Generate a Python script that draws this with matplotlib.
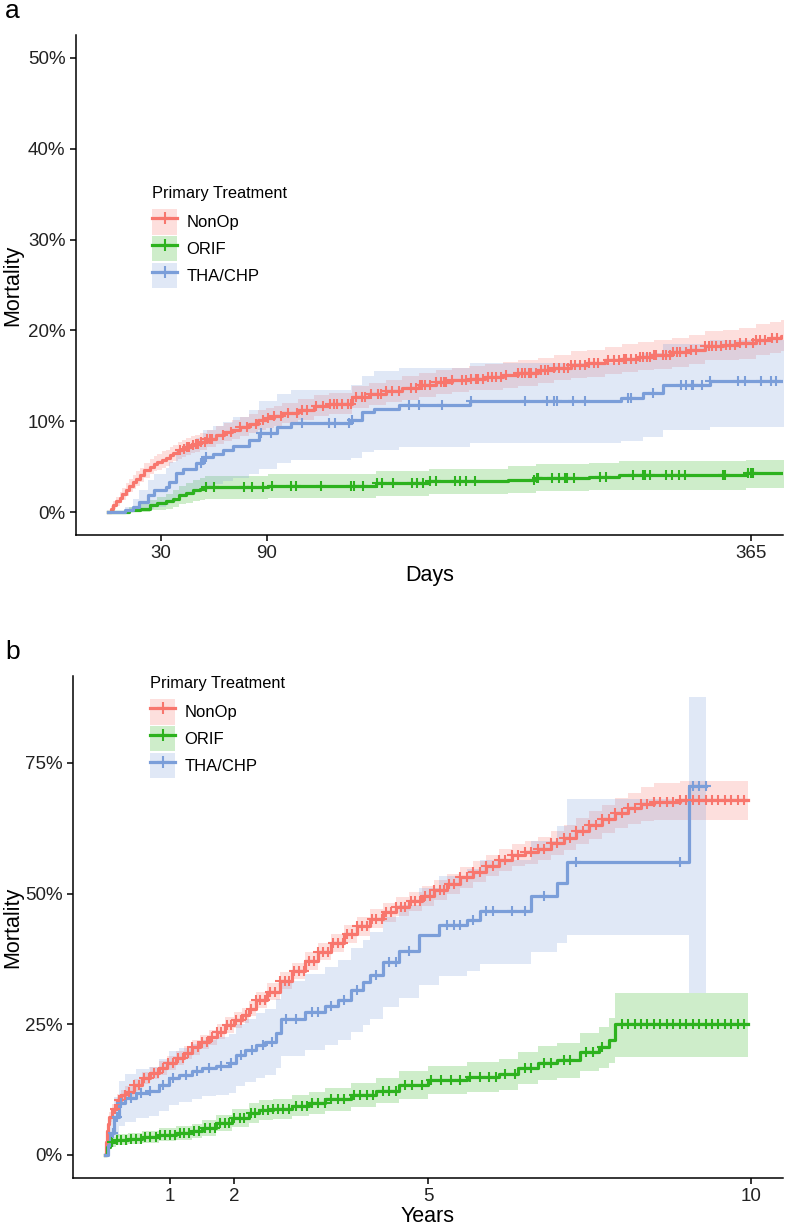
import numpy as np
import matplotlib
matplotlib.use('Agg')
import matplotlib.pyplot as plt
from matplotlib.patches import Patch
from matplotlib.lines import Line2D

plt.rcParams['font.family'] = ['Liberation Sans', 'DejaVu Sans']

groups = ['NonOp', 'ORIF', 'THA/CHP']
colors = {'NonOp': '#F8766D', 'ORIF': '#2DB21E', 'THA/CHP': '#7B9ED9'}

# ---------- panel a : first year, days / % ----------
a_nonop_t = [0, 1.5, 3, 4.5, 6.5, 8, 10, 12, 14, 16, 18, 20.5, 23.5, 26, 28, 30.5, 33, 35, 37, 39.5,
             42, 44.5, 47, 49.5, 52, 56, 61, 66, 70.5, 75, 80, 85,
             89.6, 94, 99, 108, 117, 125.5, 138.6, 148, 157.7, 167, 176.5, 186, 195, 205, 214,
             224, 233, 244, 253, 263, 272, 282, 292, 301, 310, 320, 330, 339, 349, 358, 368,
             376, 382, 385]
a_nonop_est = [0, 0.4, 0.8, 1.2, 1.6, 2.0, 2.5, 2.9, 3.3, 3.7, 4.1, 4.6, 5.0, 5.3, 5.5, 5.8, 6.0,
               6.3, 6.5, 6.8, 7.0, 7.2, 7.4, 7.55, 7.7, 8.1, 8.5, 8.8, 9.1,
               9.4, 9.7, 10.1, 10.4, 10.6, 10.9, 11.3, 11.7, 11.95, 12.7, 13.0, 13.3, 13.7, 14.0,
               14.3, 14.5, 14.7, 14.9, 15.1, 15.3, 15.6, 15.9, 16.2, 16.4, 16.7, 16.9, 17.1, 17.3,
               17.6, 17.9, 18.3, 18.45, 18.6, 19.0, 19.2, 19.4, 19.4]
a_nonop_lo = [0, 0.1, 0.4, 0.7, 1.0, 1.4, 1.8, 2.2, 2.6, 2.9, 3.3, 3.8, 4.2, 4.5, 4.7, 4.9, 5.1,
              5.4, 5.6, 5.9, 6.1, 6.3, 6.5, 6.65, 6.8, 7.2, 7.5, 7.8, 8.1,
              8.4, 8.7, 9.0, 9.3, 9.5, 9.8, 10.2, 10.6, 10.8, 11.5, 11.8, 12.1, 12.4, 12.7, 13.0,
              13.2, 13.4, 13.5, 13.7, 13.9, 14.2, 14.5, 14.8, 14.9, 15.2, 15.4, 15.6, 15.8, 16.0,
              16.3, 16.7, 16.8, 16.9, 17.3, 17.5, 17.7, 17.7]
a_nonop_hi = [0, 0.7, 1.2, 1.7, 2.2, 2.7, 3.2, 3.7, 4.1, 4.5, 4.9, 5.4, 5.9, 6.2, 6.4, 6.7, 6.9,
              7.2, 7.4, 7.7, 7.9, 8.2, 8.4, 8.55, 8.7, 9.1, 9.5, 9.8, 10.1,
              10.5, 10.8, 11.2, 11.5, 11.7, 12.0, 12.5, 12.9, 13.1, 13.9, 14.2, 14.6, 15.0, 15.3,
              15.6, 15.9, 16.1, 16.3, 16.5, 16.7, 17.0, 17.3, 17.7, 17.9, 18.2, 18.5, 18.7, 18.9,
              19.2, 19.5, 19.9, 20.1, 20.3, 20.7, 20.9, 21.1, 21.1]
a_nonop_cens = [41, 43, 45, 46, 48, 50, 51, 53, 55, 56, 58, 59, 65, 70, 75, 79, 84, 88, 91, 94, 98,
                102, 107, 110, 113, 118, 122, 126, 128, 130, 133, 136, 138, 141, 144, 146, 149,
                153, 155, 158, 161, 165, 172, 175, 177, 178, 180, 183, 186, 189, 191, 192, 195,
                201, 203, 206, 209, 210, 213, 216, 218, 220, 223, 226, 233, 235, 237, 239, 240,
                243, 246, 248, 250, 253, 256, 259, 261, 263, 265, 268, 271, 273, 276, 278, 284,
                287, 290, 293, 294, 297, 300, 302, 304, 306, 308, 310, 311, 315, 317, 319, 321,
                323, 325, 328, 331, 334, 339, 341, 343, 345, 348, 351, 353, 356, 359, 362, 366,
                368, 370, 373, 377, 380]

a_orif_t = [0, 12, 18, 23.5, 28, 33, 37, 40.5, 44, 48, 52, 55, 91, 152, 182, 227, 243, 273, 290, 362, 385]
a_orif_est = [0, 0.2, 0.4, 0.8, 1.0, 1.2, 1.5, 1.9, 2.1, 2.4, 2.6, 2.75, 2.9, 3.2, 3.4, 3.6, 3.8, 3.9, 4.1, 4.3, 4.3]
a_orif_lo = [0, 0, 0.05, 0.2, 0.3, 0.4, 0.6, 0.9, 1.0, 1.2, 1.4, 1.5, 1.6, 1.8, 2.0, 2.1, 2.3, 2.4, 2.5, 2.7, 2.7]
a_orif_hi = [0, 0.6, 0.9, 1.4, 1.7, 2.0, 2.4, 2.9, 3.2, 3.5, 3.8, 4.0, 4.2, 4.5, 4.8, 5.1, 5.3, 5.4, 5.6, 5.8, 5.8]
a_orif_cens = [55.7, 60.4, 77, 81.5, 87.7, 93, 104, 106.6, 121, 138, 139.6, 145, 152.6, 155.5, 162,
               172.6, 175.3, 179, 183, 186, 197, 200, 203, 208.6, 241.6, 243.3, 244, 252, 256,
               259.7, 260.4, 264.3, 279.6, 283, 298, 304, 305, 308, 317, 320, 324, 327.6, 349,
               350.4, 363.4, 365, 366]

a_tha_t = [0, 9.3, 14, 17.8, 22.5, 26.3, 33, 34.8, 38.6, 42.3, 50, 53.7, 59.3, 65, 70.7, 80, 85.8,
           96, 103.7, 137.8, 144, 151, 165, 205.7, 291.5, 304, 315, 341.7, 385]
a_tha_est = [0, 0.2, 0.6, 1.1, 1.9, 2.4, 2.8, 3.3, 4.3, 4.8, 5.4, 6.1, 6.4, 6.8, 7.3, 7.9, 8.7, 9.4,
             9.8, 10.2, 11.0, 11.4, 11.8, 12.2, 12.6, 13.1, 14.0, 14.4, 14.4]
a_tha_lo = [0, 0, 0, 0.1, 0.4, 0.6, 0.8, 1.1, 1.7, 2.0, 2.4, 2.9, 3.1, 3.4, 3.8, 4.2, 4.8, 5.4, 5.7,
            6.0, 6.6, 6.9, 7.2, 7.6, 7.8, 8.3, 9.0, 9.4, 9.4]
a_tha_hi = [0, 0.6, 1.5, 2.4, 3.5, 4.2, 4.9, 5.5, 6.8, 7.5, 8.2, 9.0, 9.5, 9.9, 10.5, 11.3, 12.2,
            13.0, 13.5, 14.0, 15.0, 15.5, 15.9, 16.4, 16.9, 17.5, 18.5, 19.0, 19.0]
a_tha_cens = [53, 55.6, 86.7, 92.4, 110, 125.5, 129, 136.8, 138.6, 170.7, 176.4, 189.6, 205.8, 237,
              249, 253, 254.7, 264, 271, 295.5, 297, 309.6, 325.6, 328.4, 331.3, 332, 337, 342,
              357.7, 361.6, 370.8, 376.4, 379.3]

# ---------- panel b : long term, years / % ----------
b_nonop_t = [0, 0.01, 0.02, 0.035, 0.05, 0.1, 0.18, 0.25, 0.31, 0.44, 0.57, 0.7, 0.83, 0.96, 1.09,
             1.22, 1.34, 1.47, 1.6, 1.73, 1.86, 2.0, 2.12, 2.22, 2.33, 2.5, 2.7, 2.9, 3.1, 3.3,
             3.5, 3.7, 3.9, 4.1, 4.3, 4.5, 4.7, 4.9, 5.1, 5.3, 5.5, 5.7, 5.9, 6.1, 6.3, 6.5, 6.7,
             6.9, 7.1, 7.3, 7.5, 7.7, 7.9, 8.1, 8.3, 8.5, 8.9, 9.95]
b_nonop_est = [0, 2.5, 4.5, 6.0, 7.3, 8.8, 10.5, 11.4, 12.0, 13.4, 14.7, 15.7, 16.6, 17.6, 18.5,
               19.6, 20.6, 21.6, 22.5, 23.6, 24.8, 25.8, 26.7, 28.0, 29.6, 31.2, 33.3, 35.2, 37.1,
               38.9, 40.6, 42.2, 43.7, 45.2, 46.4, 47.5, 48.5, 49.5, 50.6, 51.9, 53.1, 54.2, 55.3,
               56.5, 57.4, 57.9, 58.6, 59.6, 60.7, 61.9, 63.1, 64.3, 65.4, 66.3, 67.1, 67.6, 67.8, 67.8]
b_nonop_lo = [0, 1.9, 3.7, 5.1, 6.3, 7.8, 9.4, 10.3, 10.9, 12.2, 13.5, 14.5, 15.3, 16.3, 17.2,
              18.3, 19.2, 20.2, 21.1, 22.2, 23.3, 24.3, 25.2, 26.5, 28.1, 29.6, 31.7, 33.6, 35.4,
              37.2, 38.9, 40.5, 41.9, 43.4, 44.6, 45.7, 46.7, 47.6, 48.7, 50.0, 51.1, 52.2, 53.3,
              54.4, 55.3, 55.7, 56.4, 57.3, 58.3, 59.4, 60.5, 61.6, 62.5, 63.3, 63.9, 64.1, 64.1, 64.1]
b_nonop_hi = [0, 3.1, 5.3, 6.9, 8.3, 9.8, 11.6, 12.5, 13.1, 14.6, 15.9, 16.9, 17.9, 18.9, 19.8,
              20.9, 22.0, 23.0, 23.9, 25.0, 26.3, 27.3, 28.2, 29.5, 31.1, 32.8, 34.9, 36.8, 38.8,
              40.6, 42.3, 43.9, 45.5, 47.0, 48.2, 49.3, 50.3, 51.4, 52.5, 53.8, 55.1, 56.2, 57.3,
              58.6, 59.5, 60.1, 60.8, 61.9, 63.1, 64.4, 65.7, 67.0, 68.3, 69.3, 70.3, 71.1, 71.5, 71.5]
b_nonop_cens = [0.15, 0.22, 0.3, 0.37, 0.45, 0.52, 0.6, 0.68, 0.75, 0.82, 0.9, 0.97, 1.05, 1.12,
                1.2, 1.28, 1.35, 1.43, 1.5, 1.58, 1.65, 1.73, 1.8, 1.88, 1.95, 2.03, 2.1, 2.18,
                2.25, 2.33, 2.4, 2.48, 2.55, 2.63, 2.7, 2.78, 2.85, 2.93, 3.0, 3.08, 3.15, 3.23,
                3.3, 3.38, 3.45, 3.53, 3.6, 3.68, 3.75, 3.83, 3.9, 3.98, 4.05, 4.13, 4.2, 4.28,
                4.35, 4.43, 4.5, 4.58, 4.65, 4.73, 4.8, 4.88, 4.95, 5.03, 5.1, 5.18, 5.25, 5.33,
                5.4, 5.5, 5.6, 5.7, 5.8, 5.9, 6.0, 6.1, 6.2, 6.3, 6.4, 6.5, 6.6, 6.7, 6.8, 6.9,
                7.0, 7.1, 7.2, 7.3, 7.4, 7.5, 7.6, 7.7, 7.8, 7.9, 8.0, 8.1, 8.2, 8.3, 8.4, 8.5,
                8.6, 8.7, 8.8, 8.9, 9.0, 9.1, 9.2, 9.3, 9.4, 9.5, 9.6, 9.7, 9.8, 9.9]

b_orif_t = [0, 0.03, 0.08, 0.16, 0.35, 0.57, 0.83, 1.09, 1.34, 1.5, 1.71, 1.96, 2.22, 2.38, 2.6,
            2.89, 3.15, 3.41, 3.8, 4.2, 4.55, 5.0, 5.6, 6.1, 6.4, 6.7, 7.0, 7.35, 7.65, 7.8, 7.9, 9.95]
b_orif_est = [0, 1.5, 2.5, 2.9, 3.1, 3.4, 3.8, 4.2, 4.5, 5.1, 6.1, 7.0, 8.0, 8.6, 8.8, 9.4, 10.0,
              10.7, 11.5, 12.3, 13.4, 14.3, 14.9, 15.4, 16.6, 17.6, 18.1, 19.7, 20.6, 22.0, 25.0, 25.0]
b_orif_lo = [0, 0.8, 1.6, 1.9, 2.1, 2.3, 2.6, 2.9, 3.2, 3.7, 4.5, 5.3, 6.2, 6.7, 6.9, 7.4, 7.9,
             8.5, 9.2, 9.9, 10.8, 11.6, 12.1, 12.5, 13.5, 14.3, 14.7, 16.0, 16.7, 17.6, 18.8, 18.8]
b_orif_hi = [0, 2.4, 3.5, 4.0, 4.2, 4.6, 5.1, 5.5, 5.9, 6.6, 7.7, 8.8, 9.9, 10.5, 10.8, 11.4, 12.1,
             12.9, 13.8, 14.7, 16.0, 17.0, 17.7, 18.3, 19.7, 20.9, 21.5, 23.4, 24.5, 26.2, 31.0, 31.0]
b_orif_cens = [0.1, 0.18, 0.25, 0.32, 0.4, 0.48, 0.55, 0.62, 0.7, 0.78, 0.85, 0.92, 1.0, 1.08,
               1.15, 1.22, 1.3, 1.38, 1.45, 1.55, 1.62, 1.7, 1.78, 1.85, 1.92, 2.0, 2.08, 2.15,
               2.25, 2.32, 2.45, 2.52, 2.6, 2.68, 2.75, 2.85, 2.95, 3.05, 3.12, 3.2, 3.3, 3.4,
               3.5, 3.6, 3.7, 3.85, 3.95, 4.05, 4.15, 4.3, 4.4, 4.5, 4.65, 4.75, 4.9, 5.05, 5.2,
               5.35, 5.5, 5.65, 5.8, 5.95, 6.05, 6.2, 6.35, 6.5, 6.6, 6.8, 6.9, 7.1, 7.2, 7.45,
               7.55, 7.7, 8.0, 8.1, 8.2, 8.3, 8.4, 8.5, 8.6, 8.7, 8.8, 8.9, 9.0, 9.1, 9.2, 9.3,
               9.4, 9.5, 9.6, 9.7, 9.8, 9.9]

b_tha_t = [0, 0.04, 0.08, 0.13, 0.21, 0.31, 0.47, 0.67, 0.83, 0.98, 1.14, 1.35, 1.5, 1.71, 1.91,
           2.02, 2.17, 2.33, 2.48, 2.64, 2.72, 3.1, 3.4, 3.6, 3.8, 4.0, 4.1, 4.3, 4.55, 4.86,
           5.17, 5.6, 5.8, 6.6, 7.0, 7.15, 9.05, 9.3]
b_tha_est = [0, 2.0, 4.2, 7.3, 9.9, 10.9, 11.8, 12.2, 13.4, 14.7, 15.3, 16.0, 16.6, 17.0, 17.5,
             19.1, 20.0, 21.0, 21.6, 23.3, 26.1, 27.3, 28.5, 29.6, 31.5, 33.0, 34.4, 37.0, 39.0,
             42.0, 44.0, 45.0, 46.7, 49.6, 52.0, 56.0, 70.5, 70.5]
b_tha_lo = [0, 0.5, 1.5, 3.5, 5.5, 6.3, 7.1, 7.4, 8.4, 9.6, 10.1, 10.7, 11.2, 11.5, 11.9, 13.2,
            14.0, 14.8, 15.3, 16.7, 19.0, 20.0, 21.0, 22.0, 23.6, 24.9, 26.1, 28.3, 30.0, 32.6,
            34.3, 35.1, 36.6, 38.8, 40.5, 42.0, 31.0, 31.0]
b_tha_hi = [0, 3.5, 7.0, 11.0, 14.2, 15.4, 16.4, 16.9, 18.4, 19.8, 20.5, 21.3, 22.0, 22.5, 23.1,
            25.0, 26.0, 27.2, 27.9, 29.9, 33.2, 34.6, 36.0, 37.3, 39.5, 41.1, 42.7, 45.6, 47.8,
            51.1, 53.4, 54.6, 56.4, 60.0, 63.0, 68.0, 87.5, 87.5]
b_tha_cens = [0.12, 0.18, 0.25, 0.4, 0.55, 0.7, 0.9, 1.05, 1.25, 1.42, 1.6, 1.8, 1.95, 2.1, 2.28,
              2.45, 2.58, 2.8, 2.95, 3.2, 3.3, 3.5, 3.7, 3.9, 4.2, 4.4, 4.5, 4.7, 5.3, 5.4, 5.5,
              5.7, 5.9, 6.0, 6.3, 6.5, 6.8, 7.3, 8.9, 9.1, 9.2, 9.3]

a_xticks = [30, 90, 365]
a_yticks = [0, 10, 20, 30, 40, 50]
b_xticks = [1, 2, 5, 10]
b_yticks = [0, 25, 50, 75]

panel_a = {'NonOp': (a_nonop_t, a_nonop_est, a_nonop_lo, a_nonop_hi, a_nonop_cens),
           'ORIF': (a_orif_t, a_orif_est, a_orif_lo, a_orif_hi, a_orif_cens),
           'THA/CHP': (a_tha_t, a_tha_est, a_tha_lo, a_tha_hi, a_tha_cens)}
panel_b = {'NonOp': (b_nonop_t, b_nonop_est, b_nonop_lo, b_nonop_hi, b_nonop_cens),
           'ORIF': (b_orif_t, b_orif_est, b_orif_lo, b_orif_hi, b_orif_cens),
           'THA/CHP': (b_tha_t, b_tha_est, b_tha_lo, b_tha_hi, b_tha_cens)}

W, H = 787, 1227
fig = plt.figure(figsize=(W / 100, H / 100), dpi=100)


def px_axes(l, t, r, b):
    return fig.add_axes([l / W, 1 - b / H, (r - l) / W, (b - t) / H])


def draw_panel(ax, data):
    # ribbons first, then curves, then censor marks
    for g in groups:
        t, est, lo, hi, cens = data[g]
        ax.fill_between(t, lo, hi, step='post', color=colors[g], alpha=0.23, lw=0, zorder=1)
    for g in groups:
        t, est, lo, hi, cens = data[g]
        ax.step(t, est, where='post', color=colors[g], lw=2.3, zorder=3)
    for g in groups:
        t, est, lo, hi, cens = data[g]
        idx = np.searchsorted(t, cens, side='right') - 1
        ax.plot(cens, np.array(est)[idx], ls='none', marker='+', ms=6.5, mew=1.5,
                color=colors[g], zorder=4)


def style(ax, xticks, yticks):
    for s in ['top', 'right']:
        ax.spines[s].set_visible(False)
    for s in ['left', 'bottom']:
        ax.spines[s].set_linewidth(1.1)
    ax.set_xticks(xticks)
    ax.set_xticklabels([str(v) for v in xticks])
    ax.set_yticks(yticks)
    ax.set_yticklabels([str(v) + '%' for v in yticks])
    ax.tick_params(length=4, width=1.1, labelsize=13.5, labelcolor='#222222', pad=3.5)


def legend(ax, x, y):
    handles = [(Patch(facecolor=colors[g], alpha=0.23, lw=0),
                Line2D([], [], color=colors[g], lw=2.3, marker='+', ms=8, mew=1.5))
               for g in groups]
    leg = ax.legend(handles, groups, title='Primary Treatment', loc='upper left',
                    bbox_to_anchor=(x / W, 1 - y / H), bbox_transform=fig.transFigure,
                    frameon=False, fontsize=12, title_fontsize=11.8, borderpad=0,
                    borderaxespad=0, handlelength=1.5, handleheight=1.95, labelspacing=0.1,
                    handletextpad=0.55, alignment='left')
    leg._legend_box.sep = 6
    return leg


# panel a
ax1 = px_axes(76, 35, 783, 535)
draw_panel(ax1, panel_a)
style(ax1, a_xticks, a_yticks)
ax1.set_xlim(-18.25, 383.25)
ax1.set_ylim(-2.5, 52.5)
legend(ax1, 152, 186)

# panel b
ax2 = px_axes(73, 676, 783, 1178)
draw_panel(ax2, panel_b)
style(ax2, b_xticks, b_yticks)
ax2.set_xlim(-0.5, 10.5)
ax2.set_ylim(-4.4, 91.6)
legend(ax2, 150, 676)

fig.text(5 / W, 1 - 18 / H, 'a', fontsize=19, va='baseline', ha='left')
fig.text(5 / W, 1 - 659 / H, 'b', fontsize=19, va='baseline', ha='left')
fig.text(13 / W, 1 - 285 / H, 'Mortality', fontsize=15.5, rotation=90, ha='center', va='center')
fig.text(13 / W, 1 - 927 / H, 'Mortality', fontsize=15.5, rotation=90, ha='center', va='center')
fig.text(429.5 / W, 1 - 576 / H, 'Days', fontsize=15.5, ha='center', va='center')
fig.text(428 / W, 1 - 1216 / H, 'Years', fontsize=15.5, ha='center', va='center')

fig.savefig('out.png', dpi=100)
